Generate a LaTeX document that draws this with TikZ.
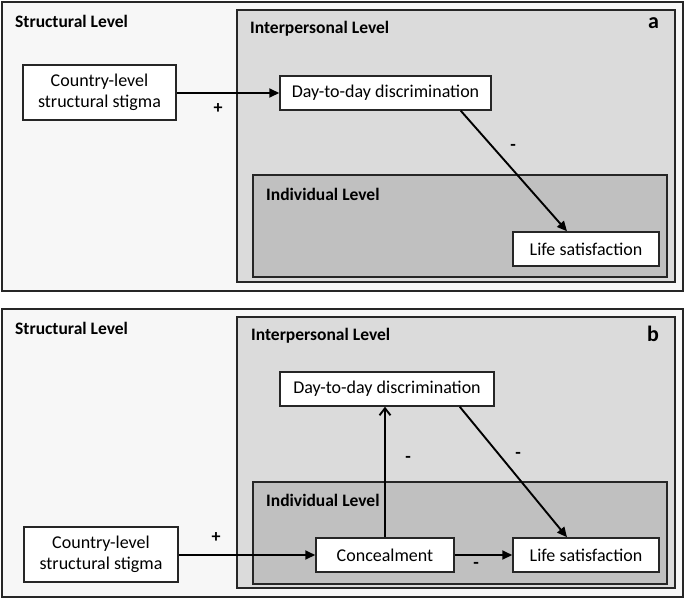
\documentclass[tikz,border=0pt]{standalone}
\usepackage{fontspec}
\setmainfont{Carlito}
\usetikzlibrary{arrows.meta}
\definecolor{structfill}{HTML}{F7F7F7}
\definecolor{interfill}{HTML}{DBDBDB}
\definecolor{indivfill}{HTML}{C0C0C0}
\definecolor{edgegray}{HTML}{262626}
\tikzset{
  levelbox/.style={draw=edgegray,line width=1.5pt},
  leveltext/.style={anchor=west,inner sep=0pt,font=\fontsize{17.5}{20}\selectfont\bfseries},
  varbox/.style={draw=edgegray,fill=white,line width=1.5pt,align=center,inner sep=0pt,font=\fontsize{18}{21}\selectfont},
  link/.style={line width=1.9pt,-{Triangle[length=10pt,width=9pt]}},
  sign/.style={font=\fontsize{18}{20}\selectfont\bfseries,inner sep=0pt}
}
\begin{document}
\begin{tikzpicture}[x=1pt,y=-1pt]
\useasboundingbox[fill=white] (0,0) rectangle (685,600);
% panel a
\draw[levelbox,fill=structfill] (2,2) rectangle (683,291);
\draw[levelbox,fill=interfill] (237,10) rectangle (675,282);
\draw[levelbox,fill=indivfill] (253,175) rectangle (667,277);
\node[leveltext] (structa) at (15,21) {Structural Level};
\node[leveltext] (intera) at (250,29) {Interpersonal Level};
\node[leveltext] (indiva) at (266,194) {Individual Level};
\node[leveltext,font=\fontsize{22}{24}\selectfont\bfseries] (taga) at (648,23) {a};
\node[varbox,minimum width=153pt,minimum height=55pt] (countrya) at (99.5,92.5) {Country-level\\structural stigma};
\node[varbox,minimum width=211pt,minimum height=34pt] (daya) at (385.5,93) {Day-to-day discrimination};
\node[varbox,minimum width=146pt,minimum height=34pt] (lifea) at (586,249) {Life satisfaction};
\draw[link] (countrya.east |- daya.west) -- (daya.west);
\draw[link] ([xshift=-31pt]daya.south east) -- ([xshift=-19pt]lifea.north);
\node[sign] (plusa) at (218,109) {+};
\node[sign] (minusa) at (513,147) {-};
% panel b
\draw[levelbox,fill=structfill] (2,309) rectangle (683,597);
\draw[levelbox,fill=interfill] (237,317) rectangle (675,588);
\draw[levelbox,fill=indivfill] (253,482) rectangle (667,584);
\node[leveltext] (structb) at (15,328) {Structural Level};
\node[leveltext] (interb) at (251,336) {Interpersonal Level};
\node[leveltext] (indivb) at (266,500) {Individual Level};
\node[leveltext,font=\fontsize{22}{24}\selectfont\bfseries] (tagb) at (647,334) {b};
\node[varbox,minimum width=154pt,minimum height=55pt] (countryb) at (101,554.5) {Country-level\\structural stigma};
\node[varbox,minimum width=214pt,minimum height=34pt] (dayb) at (387,389) {Day-to-day discrimination};
\node[varbox,minimum width=138pt,minimum height=34pt] (conceal) at (385,555) {Concealment};
\node[varbox,minimum width=146pt,minimum height=34pt] (lifeb) at (586,555) {Life satisfaction};
\draw[link] (countryb.east |- conceal.west) -- (conceal.west);
\draw[line width=1.9pt,-{Straight Barb[length=7pt,width=11pt]}] (conceal.north) -- (conceal.north |- dayb.south);
\draw[link] ([xshift=-35pt]dayb.south east) -- ([xshift=-19pt]lifeb.north);
\draw[link] (conceal.east) -- (lifeb.west);
\node[sign] (plusb) at (216,538) {+};
\node[sign] (minusb1) at (408,459) {-};
\node[sign] (minusb2) at (518,455) {-};
\node[sign] (minusb3) at (476,565) {-};
\end{tikzpicture}
\end{document}
